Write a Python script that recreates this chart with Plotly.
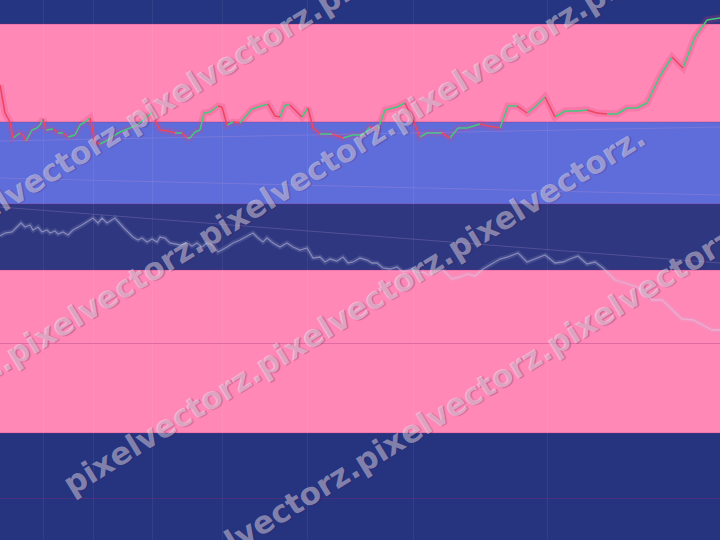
import math
import plotly.graph_objects as go

# ---------------- data ----------------
main_t = [0, 5, 10, 13, 20, 23, 26, 32, 37, 40, 43, 46, 53, 58, 63, 68, 75, 80, 85, 90,
          95, 100, 108, 115, 120, 130, 137, 147, 152, 156, 160, 168, 175, 182, 187, 190, 195, 200, 204, 210,
          218, 222, 227, 233, 240, 252, 258, 268, 275, 280, 285, 290, 302, 308, 313, 320, 332, 343, 353, 363,
          370, 378, 385, 397, 405, 413, 420, 427, 442, 450, 458, 467, 480, 488, 500, 508, 517, 527, 535, 545,
          555, 565, 577, 587, 597, 607, 617, 627, 637, 647, 660, 672, 683, 695, 707, 720]
main_v = [85, 113, 122, 138, 133, 135, 141, 130, 128, 125, 119, 130, 129, 133, 133, 137, 135, 125, 122, 118,
          142, 144, 140, 135, 132, 128, 125, 117, 112, 122, 130, 131, 133, 133, 138, 138, 132, 130, 113, 112,
          106, 107, 125, 122, 123, 109, 107, 104, 116, 117, 105, 105, 117, 108, 128, 134, 134, 138, 135, 135,
          127, 129, 110, 107, 103, 120, 137, 133, 133, 138, 128, 128, 124, 126, 128, 106, 106, 113, 107, 97,
          117, 111, 111, 110, 113, 114, 114, 108, 108, 103, 76, 57, 68, 37, 20, 18]

sub_t = [0, 5, 12, 15, 21, 25, 30, 33, 38, 42, 47, 50, 55, 58, 63, 68, 73, 82, 88, 93,
         98, 102, 107, 115, 123, 128, 133, 138, 142, 147, 152, 157, 160, 165, 170, 180, 187, 192, 197, 202,
         207, 213, 218, 227, 233, 240, 247, 253, 258, 263, 267, 273, 280, 287, 293, 300, 307, 313, 320, 325,
         330, 337, 343, 348, 353, 360, 367, 372, 377, 383, 390, 397, 403, 412, 418, 423, 428, 437, 443, 452,
         460, 468, 475, 483, 493, 500, 508, 518, 527, 535, 545, 555, 563, 570, 578, 587, 595, 603, 615, 625,
         637, 645, 652, 662, 672, 682, 693, 703, 712, 720]
sub_v = [236, 233, 232, 229, 223, 227, 225, 230, 227, 232, 230, 233, 231, 234, 232, 235, 230, 225, 221, 218,
         223, 218, 223, 218, 227, 232, 237, 240, 238, 242, 239, 242, 237, 238, 243, 245, 243, 246, 243, 247,
         243, 245, 252, 247, 243, 240, 236, 233, 238, 242, 238, 243, 247, 243, 247, 250, 248, 258, 257, 262,
         259, 261, 257, 263, 262, 258, 260, 263, 263, 268, 269, 267, 272, 269, 273, 272, 275, 272, 270, 279,
         277, 274, 276, 269, 263, 259, 257, 253, 262, 259, 255, 263, 262, 259, 256, 264, 262, 268, 280, 283,
         287, 293, 300, 300, 310, 319, 320, 325, 330, 330]

trend_t = [0, 720]
trend1_v = [141, 127]
trend2_v = [178, 195]
trend3_v = [207, 263]

grid_x = [43, 93, 152, 222, 307, 413, 547]
grid_y = [343, 498]

band_edges = [0, 24, 122, 204, 270, 433, 540]
band_colors = ["#263581", "#FF88B6", "#5F6DDA", "#2E3780", "#FF88B6", "#263480"]

watermark_text = "pixelvectorz."
# rows of the watermark: start point of the first word and number of repeats
wm_start_x = [-71, -194, 60, -36]
wm_start_y = [245, 481, 490, 705]
wm_repeats = [3, 5, 3, 4]

assert len(main_t) == len(main_v)
assert len(sub_t) == len(sub_v)

# ---------------- figure ----------------
fig = go.Figure()

# glow under the main line
fig.add_trace(go.Scatter(x=main_t, y=main_v, mode="lines",
                         line=dict(color="rgba(225,60,120,0.22)", width=7),
                         hoverinfo="skip", showlegend=False))

# split into rising (green) and falling (red) segments
gx, gy, rx, ry = [], [], [], []
for i in range(1, len(main_t)):
    seg_x = [main_t[i - 1], main_t[i], None]
    seg_y = [main_v[i - 1], main_v[i], None]
    if main_v[i] <= main_v[i - 1]:  # reversed axis: smaller = higher
        gx += seg_x
        gy += seg_y
    else:
        rx += seg_x
        ry += seg_y

fig.add_trace(go.Scatter(x=gx, y=gy, mode="lines", line=dict(color="#3FCB7C", width=1.5),
                         connectgaps=False, hoverinfo="skip", showlegend=False))
fig.add_trace(go.Scatter(x=rx, y=ry, mode="lines", line=dict(color="#EC4660", width=1.5),
                         connectgaps=False, hoverinfo="skip", showlegend=False))

# secondary (grey) line with soft glow
fig.add_trace(go.Scatter(x=sub_t, y=sub_v, mode="lines",
                         line=dict(color="rgba(200,195,230,0.14)", width=5),
                         hoverinfo="skip", showlegend=False))
fig.add_trace(go.Scatter(x=sub_t, y=sub_v, mode="lines",
                         line=dict(color="rgba(215,210,238,0.45)", width=1.3),
                         hoverinfo="skip", showlegend=False))

# faint trend lines
for tv in (trend1_v, trend2_v, trend3_v):
    fig.add_trace(go.Scatter(x=trend_t, y=tv, mode="lines",
                             line=dict(color="rgba(200,150,220,0.25)", width=1),
                             hoverinfo="skip", showlegend=False))

# background bands
shapes = []
for i, col in enumerate(band_colors):
    shapes.append(dict(type="rect", xref="paper", yref="y", x0=0, x1=1,
                       y0=band_edges[i], y1=band_edges[i + 1],
                       fillcolor=col, line=dict(width=0), layer="below"))
for e in band_edges[1:-1]:
    shapes.append(dict(type="line", xref="paper", yref="y", x0=0, x1=1, y0=e, y1=e,
                       line=dict(color="rgba(150,40,120,0.35)", width=1), layer="below"))

# watermark annotations
ang = 31.5
P = 230.0
dx, dy = math.cos(math.radians(ang)), -math.sin(math.radians(ang))
annotations = []
for sx, sy, k in zip(wm_start_x, wm_start_y, wm_repeats):
    cx = sx + dx * P * k / 2
    cy = sy + dy * P * k / 2
    annotations.append(dict(
        x=cx, y=cy, xref="x", yref="y", text=watermark_text * k, showarrow=False,
        textangle=-ang, xanchor="center", yanchor="middle",
        font=dict(family="DejaVu Sans", size=31, weight="bold",
                  color="rgba(255,255,255,0.42)",
                  shadow="1px 1px 1px rgba(60,20,80,0.7)")))

fig.update_layout(
    width=720, height=540,
    margin=dict(l=0, r=0, t=0, b=0),
    paper_bgcolor="#263581",
    plot_bgcolor="rgba(0,0,0,0)",
    showlegend=False,
    shapes=shapes,
    annotations=annotations,
    xaxis=dict(range=[0, 720], tickvals=grid_x, showticklabels=False, showgrid=True,
               gridcolor="rgba(255,255,255,0.06)", gridwidth=1, zeroline=False, showline=False),
    yaxis=dict(range=[540, 0], tickvals=grid_y, showticklabels=False, showgrid=True,
               gridcolor="rgba(150,40,120,0.3)", gridwidth=1, zeroline=False, showline=False),
)

fig.write_html("out.html",
               config={"displayModeBar": False},
               post_script="document.body.style.margin='0';document.body.style.padding='0';"
                           "document.body.style.overflow='hidden';")
